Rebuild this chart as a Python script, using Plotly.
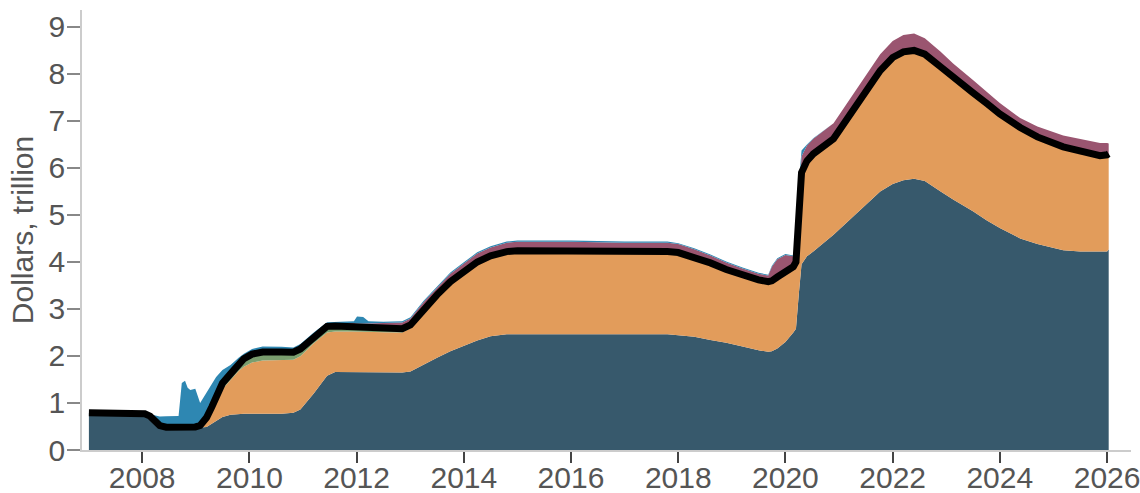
import plotly.graph_objects as go

dates = [
    "2007-01-03", "2007-12-12", "2008-01-19", "2008-02-24", "2008-04-01", "2008-04-30",
    "2008-06-13", "2008-09-05", "2008-09-16", "2008-09-27", "2008-10-19", "2008-11-06",
    "2008-11-24", "2008-12-28", "2009-01-30", "2009-03-15", "2009-04-20", "2009-05-19",
    "2009-07-01", "2009-08-25", "2009-10-19", "2009-11-24", "2010-01-19", "2010-04-01",
    "2010-08-08", "2010-10-27", "2010-12-14", "2011-03-15", "2011-06-14", "2011-08-08",
    "2011-12-14", "2012-01-04", "2012-02-15", "2012-03-22", "2012-07-01", "2012-11-07",
    "2013-01-02", "2013-04-02", "2013-07-02", "2013-10-01", "2014-01-01", "2014-04-02",
    "2014-07-02", "2014-10-20", "2015-01-01", "2016-01-01", "2017-01-01", "2017-10-19",
    "2018-01-01", "2018-04-20", "2018-08-08", "2018-11-24", "2019-03-15", "2019-07-02",
    "2019-09-06", "2019-10-01", "2019-11-07", "2020-01-01", "2020-02-24", "2020-03-13",
    "2020-04-01", "2020-04-20", "2020-05-27", "2020-07-09", "2020-11-24", "2021-03-15",
    "2021-07-02", "2021-10-08", "2022-01-01", "2022-03-15", "2022-05-27", "2022-08-08",
    "2022-11-24", "2023-02-17", "2023-07-02", "2023-10-05", "2024-01-01", "2024-05-19",
    "2024-09-13", "2025-03-08", "2025-07-02", "2025-11-14", "2026-01-01", "2026-01-12",
]

# Treasury securities (dollars, trillion)
treasury = [
    0.79, 0.79, 0.77, 0.72, 0.62, 0.52,
    0.485, 0.48, 0.48, 0.48, 0.48, 0.48,
    0.48, 0.48, 0.48, 0.49, 0.56, 0.63,
    0.70, 0.75, 0.77, 0.77, 0.77, 0.77,
    0.77, 0.79, 0.86, 1.20, 1.58, 1.66,
    1.66, 1.66, 1.66, 1.65, 1.65, 1.65,
    1.67, 1.82, 1.96, 2.10, 2.22, 2.33,
    2.42, 2.46, 2.46, 2.46, 2.46, 2.46,
    2.44, 2.41, 2.34, 2.28, 2.20, 2.12,
    2.09, 2.10, 2.16, 2.30, 2.50, 2.58,
    3.30, 3.95, 4.12, 4.22, 4.58, 4.90,
    5.22, 5.50, 5.66, 5.74, 5.77, 5.72,
    5.50, 5.33, 5.08, 4.88, 4.72, 4.50,
    4.38, 4.25, 4.22, 4.21, 4.22, 4.27,
]

# Mortgage-backed securities
mbs = [
    0.0, 0.0, 0.0, 0.0, 0.0, 0.0,
    0.0, 0.0, 0.0, 0.0, 0.0, 0.0,
    0.0, 0.0, 0.02, 0.15, 0.28, 0.42,
    0.60, 0.73, 0.91, 1.00, 1.09, 1.135,
    1.145, 1.13, 1.135, 1.07, 0.92, 0.86,
    0.86, 0.86, 0.855, 0.86, 0.855, 0.85,
    0.913, 1.11, 1.275, 1.42, 1.525, 1.62,
    1.665, 1.72, 1.743, 1.755, 1.748, 1.755,
    1.76, 1.69, 1.64, 1.56, 1.52, 1.50,
    1.49, 1.50, 1.52, 1.50, 1.40, 1.42,
    1.70, 1.95, 2.03, 2.08, 2.04, 2.22,
    2.38, 2.57, 2.69, 2.73, 2.73, 2.70,
    2.65, 2.59, 2.52, 2.49, 2.43, 2.36,
    2.28, 2.20, 2.14, 2.05, 2.06, 2.03,
]

# Agency debt
agency = [
    0.0, 0.0, 0.0, 0.0, 0.0, 0.0,
    0.0, 0.0, 0.0, 0.0, 0.0, 0.0,
    0.0, 0.01, 0.02, 0.05, 0.08, 0.10,
    0.12, 0.14, 0.16, 0.17, 0.18, 0.18,
    0.17, 0.16, 0.155, 0.14, 0.13, 0.12,
    0.11, 0.10, 0.095, 0.09, 0.085, 0.08,
    0.077, 0.07, 0.065, 0.06, 0.055, 0.05,
    0.045, 0.04, 0.037, 0.025, 0.012, 0.005,
    0.0, 0.0, 0.0, 0.0, 0.0, 0.0,
    0.0, 0.0, 0.0, 0.0, 0.0, 0.0,
    0.0, 0.0, 0.0, 0.0, 0.0, 0.0,
    0.0, 0.0, 0.0, 0.0, 0.0, 0.0,
    0.0, 0.0, 0.0, 0.0, 0.0, 0.0,
    0.0, 0.0, 0.0, 0.0, 0.0, 0.0,
]

# Other assets (maroon)
other = [
    0.0, 0.0, 0.0, 0.0, 0.01, 0.02,
    0.035, 0.045, 0.045, 0.045, 0.045, 0.045,
    0.045, 0.045, 0.04, 0.03, 0.03, 0.025,
    0.02, 0.02, 0.02, 0.02, 0.02, 0.025,
    0.03, 0.03, 0.035, 0.04, 0.05, 0.06,
    0.07, 0.07, 0.08, 0.09, 0.11, 0.13,
    0.14, 0.15, 0.16, 0.17, 0.17, 0.18,
    0.18, 0.19, 0.19, 0.19, 0.19, 0.19,
    0.18, 0.17, 0.16, 0.15, 0.14, 0.13,
    0.13, 0.30, 0.38, 0.35, 0.22, 0.30,
    0.35, 0.35, 0.33, 0.32, 0.33, 0.34,
    0.35, 0.35, 0.35, 0.36, 0.36, 0.34,
    0.32, 0.30, 0.27, 0.25, 0.23, 0.20,
    0.22, 0.24, 0.25, 0.27, 0.25, 0.22,
]

# Liquidity facilities and loans (blue)
facilities = [
    0.0, 0.0, 0.01, 0.04, 0.10, 0.17,
    0.20, 0.20, 0.55, 0.90, 0.95, 0.80,
    0.75, 0.77, 0.44, 0.50, 0.45, 0.38,
    0.26, 0.17, 0.10, 0.09, 0.09, 0.09,
    0.08, 0.07, 0.07, 0.05, 0.04, 0.03,
    0.04, 0.15, 0.14, 0.05, 0.03, 0.03,
    0.025, 0.025, 0.025, 0.025, 0.025, 0.025,
    0.025, 0.025, 0.025, 0.025, 0.025, 0.025,
    0.02, 0.02, 0.02, 0.02, 0.02, 0.02,
    0.02, 0.02, 0.02, 0.02, 0.02, 0.05,
    0.30, 0.12, 0.02, 0.01, 0.0, 0.0,
    0.0, 0.0, 0.0, 0.0, 0.0, 0.0,
    0.0, 0.0, 0.0, 0.0, 0.0, 0.0,
    0.0, 0.0, 0.0, 0.0, 0.0, 0.0,
]

year_ticks = ["2008", "2010", "2012", "2014", "2016", "2018", "2020", "2022", "2024", "2026"]
y_ticks = [0, 1, 2, 3, 4, 5, 6, 7, 8, 9]

colors = {
    "treasury": "#37596c",
    "mbs": "#e29c5b",
    "agency": "#7a9e6e",
    "other": "#9a5570",
    "facilities": "#2e87b2",
}

fig = go.Figure()
layers = [
    ("Treasury securities", treasury, colors["treasury"]),
    ("Mortgage-backed securities", mbs, colors["mbs"]),
    ("Agency debt", agency, colors["agency"]),
    ("Other assets", other, colors["other"]),
    ("Liquidity facilities", facilities, colors["facilities"]),
]
for name, vals, col in layers:
    fig.add_trace(go.Scatter(
        x=dates, y=vals, name=name, mode="lines", stackgroup="one",
        line=dict(width=0, color=col), fillcolor=col, hoverinfo="x+y+name",
    ))

securities_total = [t + m + a for t, m, a in zip(treasury, mbs, agency)]
fig.add_trace(go.Scatter(
    x=dates, y=securities_total, name="Securities held outright", mode="lines",
    line=dict(width=7, color="#000000"),
))

font_family = "Liberation Sans, Arial, sans-serif"
fig.update_layout(
    width=1140, height=493,
    margin=dict(l=82, r=9, t=10, b=43),
    paper_bgcolor="white", plot_bgcolor="white",
    showlegend=False,
    font=dict(family=font_family, size=30, color="#555555"),
)
fig.update_xaxes(
    type="date",
    range=["2006-11-17", "2026-06-13"],
    tickvals=[f"{y}-01-01" for y in year_ticks],
    ticktext=year_ticks,
    ticks="outside", ticklen=11, tickcolor="#444444", tickwidth=1.5,
    ticklabelstandoff=-11, ticklabeloverflow="allow",
    showline=True, linecolor="#cccccc", linewidth=1.5,
    showgrid=False, zeroline=False, automargin=False,
    tickfont=dict(size=30, color="#555555"),
)
fig.update_yaxes(
    range=[0, 9.36],
    tickvals=y_ticks,
    ticks="outside", ticklen=13, tickcolor="#888888", tickwidth=1.5,
    ticklabelstandoff=-4, ticklabeloverflow="allow",
    showline=True, linecolor="#cccccc", linewidth=1.5,
    showgrid=False, zeroline=False, automargin=False,
    tickfont=dict(size=30, color="#555555"),
    title=dict(text="Dollars, trillion", font=dict(size=30, color="#555555"), standoff=6),
)

fig.write_html(
    "out.html",
    config={"displayModeBar": False},
    post_script="document.body.style.margin='0';document.body.style.overflow='hidden';",
)
